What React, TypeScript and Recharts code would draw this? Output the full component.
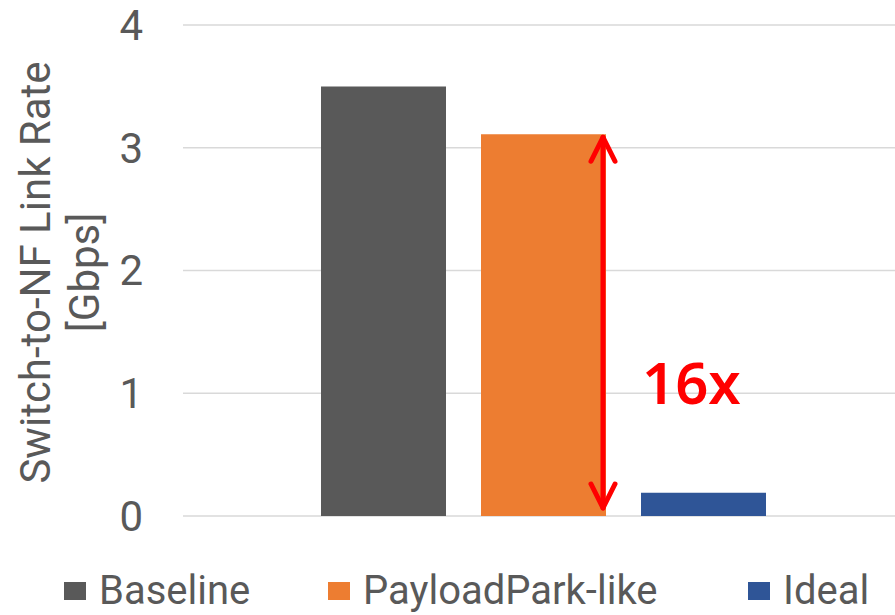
import React from 'react';
import { BarChart, Bar, XAxis, YAxis, CartesianGrid, Legend } from 'recharts';

const categories = [''];
const seriesNames = ['Baseline', 'PayloadPark-like', 'Ideal'];
const seriesColors = ['#595959', '#ED7D31', '#2F5597'];
const baselineValues = [3.5];
const payloadParkValues = [3.11];
const idealValues = [0.19];
const yTicks = [0, 1, 2, 3, 4];
const annotationText = '16x';
const axisLabelLines = ['Switch-to-NF Link Rate', '[Gbps]'];

const seriesValues = [baselineValues, payloadParkValues, idealValues];

const data = categories.map((c, i) => {
  const row: Record<string, any> = { name: c };
  seriesNames.forEach((s, k) => {
    row[s] = seriesValues[k][i];
  });
  return row;
});

const FONT = 'Roboto, "Noto Sans", sans-serif';
const legendItemWidths = [264, 420, 140];

const ArrowLabel = (props: any) => {
  const vb = props.viewBox || props;
  const x = Number(vb.x ?? props.x);
  const y = Number(vb.y ?? props.y);
  const w = Number(vb.width ?? props.width);
  const h = Number(vb.height ?? props.height);
  if (!isFinite(x) || !isFinite(y)) return null;
  const ax = x + w - 3;
  const top = y + 3;
  const bottom = y + h - 8;
  const red = '#FF0000';
  return (
    <g>
      <line x1={ax} y1={top} x2={ax} y2={bottom} stroke={red} strokeWidth={5} strokeLinecap="round" />
      <polyline
        points={`${ax - 12},${top + 24} ${ax},${top} ${ax + 12},${top + 24}`}
        fill="none"
        stroke={red}
        strokeWidth={5}
        strokeLinecap="round"
        strokeLinejoin="round"
      />
      <polyline
        points={`${ax - 12},${bottom - 24} ${ax},${bottom} ${ax + 12},${bottom - 24}`}
        fill="none"
        stroke={red}
        strokeWidth={5}
        strokeLinecap="round"
        strokeLinejoin="round"
      />
      <text
        x={x + w + 36}
        y={y + h - 112}
        fill={red}
        fontFamily='"Noto Sans", sans-serif'
        fontWeight={600}
        fontSize={58}
      >
        {annotationText}
      </text>
    </g>
  );
};

const AxisLabel = (props: any) => {
  const vb = props.viewBox || {};
  const cy = vb.y + vb.height / 2 + 2;
  const cx = 50;
  return (
    <text
      transform={`rotate(-90, ${cx}, ${cy})`}
      x={cx}
      y={cy}
      textAnchor="middle"
      fill="#595959"
      fontFamily={FONT}
      fontSize={42}
    >
      <tspan x={cx} dy={0}>{axisLabelLines[0]}</tspan>
      <tspan x={cx} dy={49}>{axisLabelLines[1]}</tspan>
    </text>
  );
};

const LegendContent = () => (
  <div
    style={{
      display: 'flex',
      flexWrap: 'nowrap',
      whiteSpace: 'nowrap',
      alignItems: 'center',
      width: 895,
      height: 99,
      paddingTop: 50,
      boxSizing: 'border-box',
      paddingLeft: 64,
      fontFamily: FONT,
      fontSize: 40,
      color: '#595959',
      lineHeight: '46px',
    }}
  >
    {seriesNames.map((s, i) => (
      <div key={s} style={{ display: 'flex', flexShrink: 0, alignItems: 'center', width: legendItemWidths[i] }}>
        <span style={{ display: 'inline-block', flexShrink: 0, width: 22, height: 18, background: seriesColors[i], marginRight: 13 }} />
        <span>{s}</span>
      </div>
    ))}
  </div>
);

export default function App() {
  return (
    <div style={{ position: 'absolute', left: 0, top: 0, width: 895, height: 615, overflow: 'hidden', background: '#fff' }}>
      <BarChart
        width={903}
        height={615}
        data={data}
        margin={{ top: 25, right: 0, bottom: 0, left: 0 }}
        barGap={35}
        barSize={125}
      >
        <CartesianGrid vertical={false} stroke="#d9d9d9" strokeWidth={1.5} />
        <XAxis dataKey="name" hide />
        <YAxis
          width={183}
          domain={[0, 4]}
          ticks={yTicks}
          interval={0}
          tickLine={false}
          axisLine={false}
          tickSize={0}
          tickMargin={40}
          tick={{ fill: '#595959', fontSize: 42, fontFamily: FONT }}
          label={{ content: <AxisLabel /> }}
        />
        <Legend
          verticalAlign="bottom"
          align="left"
          height={99}
          wrapperStyle={{ left: 0, width: 895 }}
          content={<LegendContent />}
        />
        {seriesNames.map((s, i) => (
          <Bar
            key={s}
            dataKey={s}
            name={s}
            fill={seriesColors[i]}
            isAnimationActive={false}
            label={i === 1 ? <ArrowLabel /> : undefined}
          />
        ))}
      </BarChart>
    </div>
  );
}
